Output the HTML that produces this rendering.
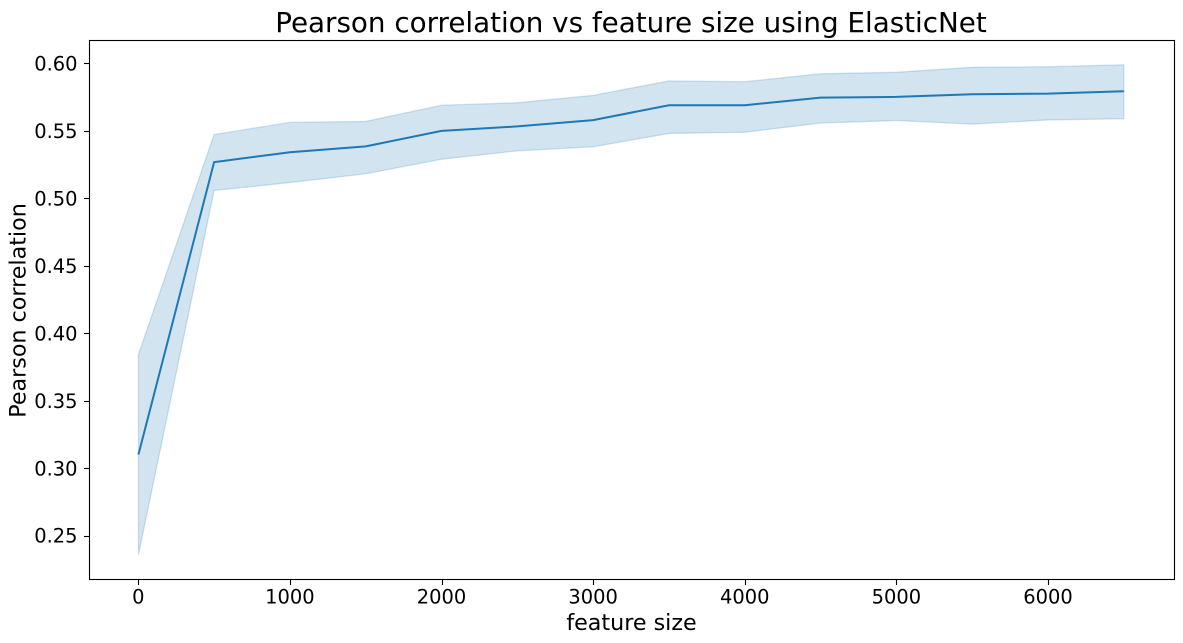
<!DOCTYPE html>
<html lang="en">
<head>
<meta charset="utf-8">
<title>Pearson correlation vs feature size using ElasticNet</title>
<style>
html,body{margin:0;padding:0;background:#fff;width:1183px;height:643px;overflow:hidden}
svg{display:block}
text{font-family:"DejaVu Sans","Liberation Sans",sans-serif;fill:#000}
</style>
</head>
<body>
<svg id="chart" xmlns="http://www.w3.org/2000/svg" width="1183" height="643" viewBox="0 0 1183 643">
  <rect x="0" y="0" width="1183" height="643" fill="#fff"/>
  <text id="title" x="631" y="32" font-size="27.78px" text-anchor="middle">Pearson correlation vs feature size using ElasticNet</text>
  <text x="631.5" y="630" font-size="22.22px" text-anchor="middle">feature size</text>
  <text transform="translate(25.5,310.5) rotate(-90)" font-size="22.22px" text-anchor="middle">Pearson correlation</text>
  <g id="marks"></g>
  <g id="axes"></g>
  <rect x="89.5" y="40.5" width="1085" height="539" fill="none" stroke="#000" stroke-width="1.1"/>
</svg>
<script>
const featureSizes = [1, 500, 1000, 1500, 2000, 2500, 3000, 3500, 4000, 4500, 5000, 5500, 6000, 6500];
const meanValues = [0.3102, 0.5268, 0.5342, 0.5385, 0.5500, 0.5533, 0.5580, 0.5690, 0.5690, 0.5746, 0.5752, 0.5771, 0.5776, 0.5794];
const upperValues = [0.3842, 0.5473, 0.5563, 0.5570, 0.5690, 0.5708, 0.5763, 0.5870, 0.5864, 0.5923, 0.5934, 0.5971, 0.5975, 0.5990];
const lowerValues = [0.2360, 0.5058, 0.5117, 0.5182, 0.5290, 0.5352, 0.5382, 0.5481, 0.5490, 0.5558, 0.5577, 0.5550, 0.5581, 0.5590];
const xTickValues = [0, 1000, 2000, 3000, 4000, 5000, 6000];
const yTickValues = [0.25, 0.30, 0.35, 0.40, 0.45, 0.50, 0.55, 0.60];

const NS = 'http://www.w3.org/2000/svg';
function xScale(v) { return 138.3 + v * 0.15162; }
function yScale(v) { return 63.4 + (0.60 - v) * 1349.5; }

const marks = document.getElementById('marks');
const axes = document.getElementById('axes');

const upperPts = featureSizes.map((x, i) => xScale(x).toFixed(2) + ',' + yScale(upperValues[i]).toFixed(2));
const lowerPts = featureSizes.map((x, i) => xScale(x).toFixed(2) + ',' + yScale(lowerValues[i]).toFixed(2)).reverse();
const band = document.createElementNS(NS, 'polygon');


band.setAttribute('points', upperPts.concat(lowerPts).join(' '));
band.setAttribute('fill', '#1f77b4');
band.setAttribute('fill-opacity', '0.2');
band.setAttribute('stroke', '#1f77b4');
band.setAttribute('stroke-opacity', '0.2');
band.setAttribute('stroke-width', '1.3');
marks.appendChild(band);

const meanLine = document.createElementNS(NS, 'polyline');


meanLine.setAttribute('points', featureSizes.map((x, i) => xScale(x).toFixed(2) + ',' + yScale(meanValues[i]).toFixed(2)).join(' '));
meanLine.setAttribute('fill', 'none');
meanLine.setAttribute('stroke', '#1f77b4');
meanLine.setAttribute('stroke-width', '2');
marks.appendChild(meanLine);

xTickValues.forEach(function (v) {
  const px = Math.round(xScale(v)) + 0.5;
  const tick = document.createElementNS(NS, 'line');
  
  
  tick.setAttribute('x1', px);
  tick.setAttribute('x2', px);
  tick.setAttribute('y1', 579.5);
  tick.setAttribute('y2', 585);
  tick.setAttribute('stroke', '#000');
  tick.setAttribute('stroke-width', '1.1');
  axes.appendChild(tick);
  const label = document.createElementNS(NS, 'text');
  
  
  label.setAttribute('x', xScale(v));
  label.setAttribute('y', 603.5);
  label.setAttribute('font-size', '19.44px');
  label.setAttribute('text-anchor', 'middle');
  label.textContent = String(v);
  axes.appendChild(label);
});

yTickValues.forEach(function (v) {
  const py = Math.round(yScale(v)) + 0.5;
  const tick = document.createElementNS(NS, 'line');
  
  
  tick.setAttribute('x1', 84);
  tick.setAttribute('x2', 89.5);
  tick.setAttribute('y1', py);
  tick.setAttribute('y2', py);
  tick.setAttribute('stroke', '#000');
  tick.setAttribute('stroke-width', '1.1');
  axes.appendChild(tick);
  const label = document.createElementNS(NS, 'text');
  
  
  label.setAttribute('x', 77.5);
  label.setAttribute('y', yScale(v) + 7);
  label.setAttribute('font-size', '19.44px');
  label.setAttribute('text-anchor', 'end');
  label.textContent = v.toFixed(2);
  axes.appendChild(label);
});
</script>
</body>
</html>
